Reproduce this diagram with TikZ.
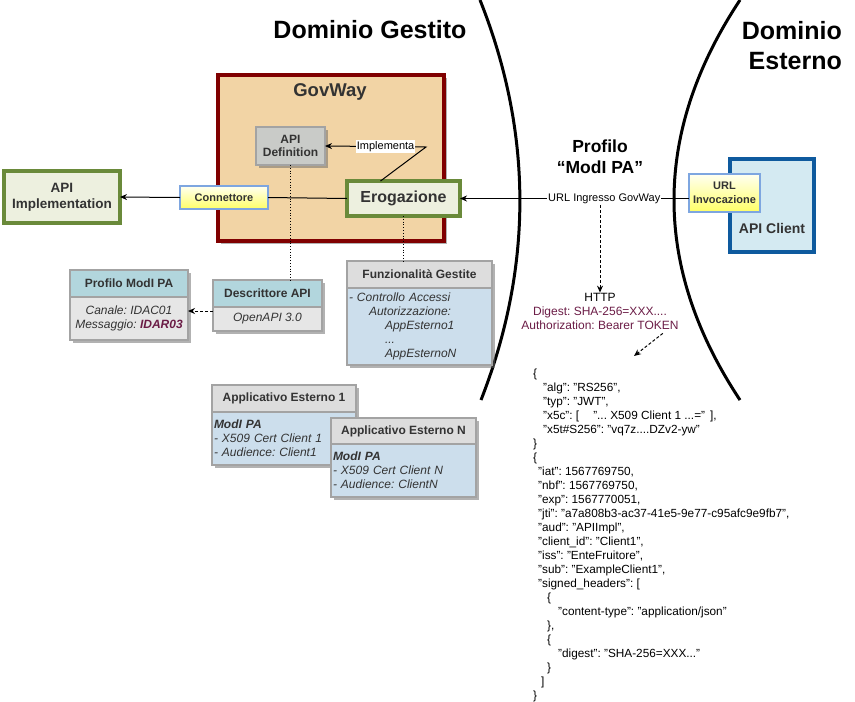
\documentclass[tikz,border=0pt]{standalone}
\usepackage{fontspec}
\setmainfont{Liberation Sans}
\usepackage{xcolor}
\usepackage{tikz}
\usetikzlibrary{arrows.meta}
\usetikzlibrary{shadows}
\newcommand\fsz[2]{\fontsize{#1}{#2}\selectfont}
\definecolor{govfill}{HTML}{F2D4A5}
\definecolor{govline}{HTML}{800000}
\definecolor{erofill}{HTML}{EDF0DF}
\definecolor{eroline}{HTML}{6A8A3A}
\definecolor{clifill}{HTML}{D4EAF2}
\definecolor{cliline}{HTML}{0E5A9E}
\definecolor{urlline}{HTML}{7EA6E0}
\definecolor{deffill}{HTML}{C9CBC8}
\definecolor{hdrteal}{HTML}{B2D6DD}
\definecolor{hdrgray}{HTML}{DDDDDD}
\definecolor{bdygray}{HTML}{E6E6E6}
\definecolor{bdyblue}{HTML}{CCDEEC}
\definecolor{boxline}{HTML}{A3A3A3}
\definecolor{txtgray}{HTML}{333333}
\definecolor{dig}{HTML}{6B1C46}
\tikzstyle{txt}=[inner sep=0pt,align=center]
\tikzstyle{ttl}=[txt,font=\bfseries\fsz{25}{30}]
\tikzstyle{shdw}=[drop shadow={shadow xshift=3pt,shadow yshift=-3pt,fill=black!60}]
\tikzstyle{box}=[rectangle,anchor=north west,inner sep=0pt,outer sep=0pt,align=center,text=txtgray,font=\bfseries\fsz{12}{13}]
\tikzstyle{govbox}=[box,draw=govline,fill=govfill,line width=4pt,shdw]
\tikzstyle{greenbox}=[box,draw=eroline,fill=erofill,line width=4pt]
\tikzstyle{defbox}=[box,draw=boxline,fill=deffill,line width=2pt,shdw]
\tikzstyle{urlbox}=[box,draw=urlline,line width=1.5pt,top color=yellow!5,bottom color=yellow!60,font=\bfseries\fsz{11}{14}]
\tikzstyle{clibox}=[box,draw=cliline,fill=clifill,line width=4pt]
\tikzstyle{hdr}=[box,draw=boxline,line width=1.5pt,minimum height=27pt,shdw]
\tikzstyle{bdy}=[hdr,anchor=north,font=\itshape\fsz{12}{14},inner xsep=2pt]
\tikzstyle{link}=[line width=1pt,>/.tip={Stealth[length=7pt,width=6pt]}]
\tikzstyle{dotline}=[line width=.8pt,dotted]
\tikzstyle{dashline}=[link,dash pattern=on 3pt off 2pt]
\tikzstyle{lbl}=[fill=white,inner sep=1pt,font=\fsz{11}{13}]
\tikzstyle{domline}=[line width=3pt]
\begin{document}
\frenchspacing
\begin{tikzpicture}[x=1pt,y=-1pt]
	\useasboundingbox (0,0) rectangle (855,702);
	\node[ttl] (gest) at (370,30) {Dominio Gestito};
	\node[ttl,align=right,anchor=east] (est) at (842,46) {Dominio\\Esterno};
	\draw[domline] (480,0) .. controls (533,133) and (533,267) .. (481,400);
	\draw[domline] (740,0) .. controls (652,133) and (652,267) .. (740,400);

	\node[govbox,minimum width=226pt,minimum height=166pt] (gov) at (218,75) {};
	\node[txt,text=txtgray,font=\bfseries\fsz{18.5}{22}] (govt) at (330,92) {GovWay};
	\node[defbox,minimum width=69pt,minimum height=38pt] (def) at (256,127) {API\\Definition};
	\node[greenbox,minimum width=113pt,minimum height=35pt,font=\bfseries\fsz{16}{19}] (ero) at (347,181) {Erogazione};
	\node[greenbox,minimum width=116pt,minimum height=52pt,font=\bfseries\fsz{13.5}{16}] (impl) at (4,171) {API\\Implementation};
	\node[urlbox,minimum width=88pt,minimum height=23pt] (conn) at (180,186) {Connettore};
	\node[clibox,minimum width=84pt,minimum height=93pt] (cli) at (730,159) {};
	\node[txt,text=txtgray,font=\bfseries\fsz{14}{16}] (clit) at (772,228) {API Client};
	\node[urlbox,minimum width=71pt,minimum height=38pt] (url) at (689,174) {URL\\Invocazione};
	\node[txt,font=\bfseries\fsz{17.5}{21}] (modi) at (600,157) {Profilo\\“ModI PA”};

	\coordinate (bend) at (426,147);
	\draw[link,->] (conn.west) -- (impl.east);
	\draw[link] (ero.west) -- (conn.east);
	\draw[link,->] (ero.east -| url.west) -- node[lbl,pos=0.37] (ing) {URL Ingresso GovWay} (ero.east);
	\draw[link,->] ([xshift=-23pt]ero.north) -- (bend) -- node[lbl,pos=0.4] {Implementa} (def.east);

	\node[txt,font=\fsz{12}{14}] (http) at (600,311) {HTTP\\\color{dig}Digest: SHA-256=XXX....\\\color{dig}Authorization: Bearer TOKEN};
	\draw[dashline,->] (http.north |- ing.south) -- (http.north);
	\coordinate (tok) at (634,356);
	\draw[dashline,->] ([xshift=-16pt,yshift=-4pt]http.south east) -- (tok);

	\node[hdr,fill=hdrteal,minimum width=118pt] (prof) at (70,270) {Profilo ModI PA};
	\node[bdy,fill=bdygray,minimum width=118pt,minimum height=43pt] (prof-b) at (prof.south) {Canale: IDAC01\\Messaggio: {\bfseries\color{dig}IDAR03}};
	\node[hdr,fill=hdrteal,minimum width=109pt] (desc) at (213,280) {Descrittore API};
	\node[bdy,fill=bdygray,minimum width=109pt,minimum height=24pt] (desc-b) at (desc.south) {OpenAPI 3.0};
	\node[hdr,fill=hdrgray,minimum width=145pt] (funz) at (347,261) {Funzionalità Gestite};
	\node[bdy,fill=bdyblue,text width=141pt,align=left,minimum height=77pt] (funz-b) at (funz.south) {- Controllo Accessi\\\hspace*{20pt}Autorizzazione:\\\hspace*{36pt}AppEsterno1\\\hspace*{36pt}...\\\hspace*{36pt}AppEsternoN};
	\draw[dotline] (def.south) -- (def.south |- desc.north);
	\draw[dotline] (ero.south) -- (ero.south |- funz.north);
	\draw[dashline,->] ([yshift=-4pt]desc.south west) -- ([yshift=-4pt]desc.south west -| prof.east);

	\node[hdr,fill=hdrgray,minimum width=144pt] (app1) at (212,385) {Applicativo Esterno 1};
	\node[bdy,fill=bdyblue,text width=140pt,align=left,minimum height=53pt] (app1-b) at (app1.south) {{\bfseries ModI PA}\\- X509 Cert Client 1\\- Audience: Client1};
	\node[hdr,fill=hdrgray,minimum width=145pt,minimum height=26pt] (appn) at (331,418) {Applicativo Esterno N};
	\node[bdy,fill=bdyblue,text width=141pt,align=left,minimum height=53pt] (appn-b) at (appn.south) {{\bfseries ModI PA}\\- X509 Cert Client N\\- Audience: ClientN};

	\node[txt,anchor=north west,align=left,font=\fsz{11.8}{14}] (jwt) at (533,369) {\{\\
		\hspace*{10pt}"alg": "RS256",\\
		\hspace*{10pt}"typ": "JWT",\\
		\hspace*{10pt}"x5c": [\hspace*{14pt}"... X509 Client 1 ...="\hspace*{5pt}],\\
		\hspace*{10pt}"x5t\#S256": "vq7z....DZv2-yw"\\
		\}\\
		\{\\
		\hspace*{5pt}"iat": 1567769750,\\
		\hspace*{5pt}"nbf": 1567769750,\\
		\hspace*{5pt}"exp": 1567770051,\\
		\hspace*{5pt}"jti": "a7a808b3-ac37-41e5-9e77-c95afc9e9fb7",\\
		\hspace*{5pt}"aud": "APIImpl",\\
		\hspace*{5pt}"client\_id": "Client1",\\
		\hspace*{5pt}"iss": "EnteFruitore",\\
		\hspace*{5pt}"sub": "ExampleClient1",\\
		\hspace*{5pt}"signed\_headers": [\\
		\hspace*{14pt}\{\\
		\hspace*{25pt}"content-type": "application/json"\\
		\hspace*{14pt}\},\\
		\hspace*{14pt}\{\\
		\hspace*{25pt}"digest": "SHA-256=XXX..."\\
		\hspace*{14pt}\}\\
		\hspace*{8pt}]\\
		\}};
\end{tikzpicture}
\end{document}
